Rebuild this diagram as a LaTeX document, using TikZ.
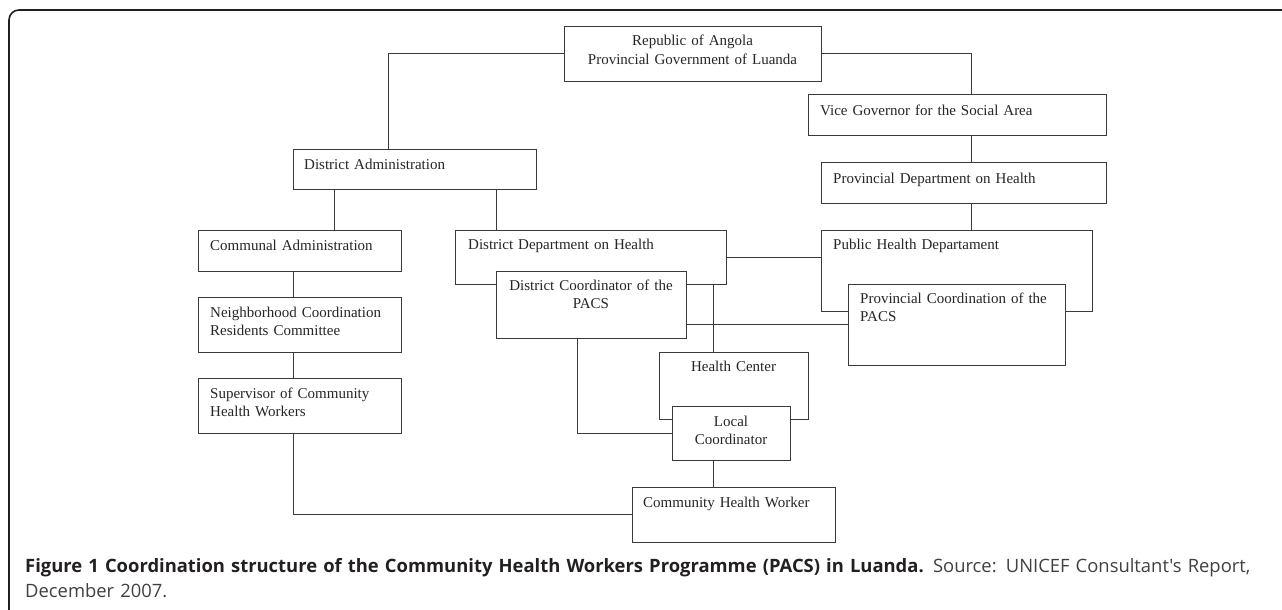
\documentclass[tikz,border=0pt]{standalone}
\usepackage{fontspec}
\setmainfont{Liberation Serif}
\newfontfamily\capfont{Open Sans}
\definecolor{boxline}{HTML}{3A3A3A}
\definecolor{captext}{HTML}{231F20}
\tikzset{
    orgbox/.style={draw=boxline, line width=1pt, fill=white, rectangle, inner sep=0pt, outer sep=0pt},
    link/.style={draw=boxline, line width=1pt},
    boxtxt/.style={inner sep=0pt, text=black!85, font=\fontsize{15}{18.4}\selectfont},
    lefttxt/.style={boxtxt, anchor=base west, align=left},
    midtxt/.style={boxtxt, anchor=base, align=center}
}
\begin{document}
\begin{tikzpicture}[x=1pt, y=-1pt]
        \useasboundingbox (0,0) rectangle (1282,610);
        \draw[line width=1.6pt, captext, rounded corners=10pt] (9,620) -- (9,10) -- (1295,10);

        \coordinate (dax) at (388,0);
        \coordinate (comx) at (334,0);
        \coordinate (ddhx) at (496,0);
        \coordinate (nbhx) at (293,0);
        \coordinate (dcx) at (577,0);
        \coordinate (locx) at (713,0);
        \coordinate (govx) at (971,0);

        \node[orgbox, minimum width=257pt, minimum height=54pt] (rep) at (692.5, 54){};
            \node[midtxt, text width=247pt] (repT) at ([yshift=-19pt]rep.north){Republic of Angola\\Provincial Government of Luanda};
        \node[orgbox, minimum width=298pt, minimum height=41pt] (vg) at (957, 114.5){};
            \node[lefttxt, text width=284pt] (vgT) at ([shift={(12pt,-21pt)}]vg.north west){Vice Governor for the Social Area};
        \node[orgbox, minimum width=285pt, minimum height=41pt] (pdh) at (963.5, 182.5){};
            \node[lefttxt, text width=271pt] (pdhT) at ([shift={(12pt,-21pt)}]pdh.north west){Provincial Department on Health};
        \node[orgbox, minimum width=243pt, minimum height=40pt] (da) at (414.5, 169){};
            \node[lefttxt, text width=229pt] (daT) at ([shift={(11pt,-20pt)}]da.north west){District Administration};

        \node[orgbox, minimum width=203pt, minimum height=41pt] (comm) at (299.5, 250.5){};
            \node[lefttxt, text width=189pt] (commT) at ([shift={(12pt,-20pt)}]comm.north west){Communal Administration};
        \node[orgbox, minimum width=203pt, minimum height=55pt] (nbh) at (299.5, 324.5){};
            \node[lefttxt, text width=189pt] (nbhT) at ([shift={(12pt,-20pt)}]nbh.north west){Neighborhood Coordination\\Residents Committee};
        \node[orgbox, minimum width=203pt, minimum height=55pt] (sup) at (299.5, 405.5){};
            \node[lefttxt, text width=189pt] (supT) at ([shift={(12pt,-20pt)}]sup.north west){Supervisor of Community\\Health Workers};

        \node[orgbox, minimum width=271pt, minimum height=54pt] (ddh) at (590.5, 257){};
            \node[lefttxt, text width=257pt] (ddhT) at ([shift={(13pt,-19pt)}]ddh.north west){District Department on Health};
        \node[orgbox, minimum width=190pt, minimum height=67pt] (dc) at (591, 304.5){};
            \node[midtxt, text width=182pt] (dcT) at ([yshift=-19pt]dc.north){District Coordinator of the\\PACS};

        \node[orgbox, minimum width=271pt, minimum height=81pt] (phd) at (956.5, 270.5){};
            \node[lefttxt, text width=257pt] (phdT) at ([shift={(12pt,-19pt)}]phd.north west){Public Health Departament};
        \node[orgbox, minimum width=217pt, minimum height=81pt] (pc) at (956.5, 324.5){};
            \node[lefttxt, text width=203pt] (pcT) at ([shift={(12pt,-19pt)}]pc.north west){Provincial Coordination of the\\PACS};

        \node[orgbox, minimum width=149pt, minimum height=67pt] (hc) at (733.5, 385.5){};
            \node[midtxt, text width=141pt] (hcT) at ([yshift=-19pt]hc.north){Health Center};
        \node[orgbox, minimum width=118pt, minimum height=54pt] (lc) at (731, 433){};
            \node[midtxt, text width=110pt] (lcT) at ([yshift=-20pt]lc.north){Local\\Coordinator};
        \node[orgbox, minimum width=203pt, minimum height=55pt] (chw) at (733.5, 514.5){};
            \node[lefttxt, text width=189pt] (chwT) at ([shift={(11pt,-20pt)}]chw.north west){Community Health Worker};

        \draw[link] (rep.west) -| (da.north -| dax);
        \draw[link] (rep.east) -| (vg.north -| govx);
        \draw[link] (vg.south -| govx) -- (pdh.north -| govx);
        \draw[link] (pdh.south -| govx) -- (phd.north -| govx);
        \draw[link] (da.south -| comx) -- (comm.north -| comx);
        \draw[link] (da.south -| ddhx) -- (ddh.north -| ddhx);
        \draw[link] (comm.south -| nbhx) -- (nbh.north -| nbhx);
        \draw[link] (nbh.south -| nbhx) -- (sup.north -| nbhx);
        \draw[link] (sup.south -| nbhx) |- (chw.west);
        \draw[link] (ddh.east) -- (ddh.east -| phd.west);
        \draw[link] (ddh.south -| locx) -- (hc.north -| locx);
        \draw[link] (dc.east |- pc.west) -- (pc.west);
        \draw[link] (dc.south -| dcx) |- (lc.west);
        \draw[link] (lc.south -| locx) -- (chw.north -| locx);

        \node[anchor=base west, inner sep=0pt, text width=1250pt, align=left, text=captext,
              font=\capfont\fontsize{18.4}{25}\selectfont] (cap) at (25, 572)
              {\textbf{Figure 1 Coordination structure of the Community Health Workers Programme (PACS) in Luanda.} {\color{black!75}Source: UNICEF Consultant's Report,}\\{\color{black!75}December 2007.}};
    \end{tikzpicture}
\end{document}
